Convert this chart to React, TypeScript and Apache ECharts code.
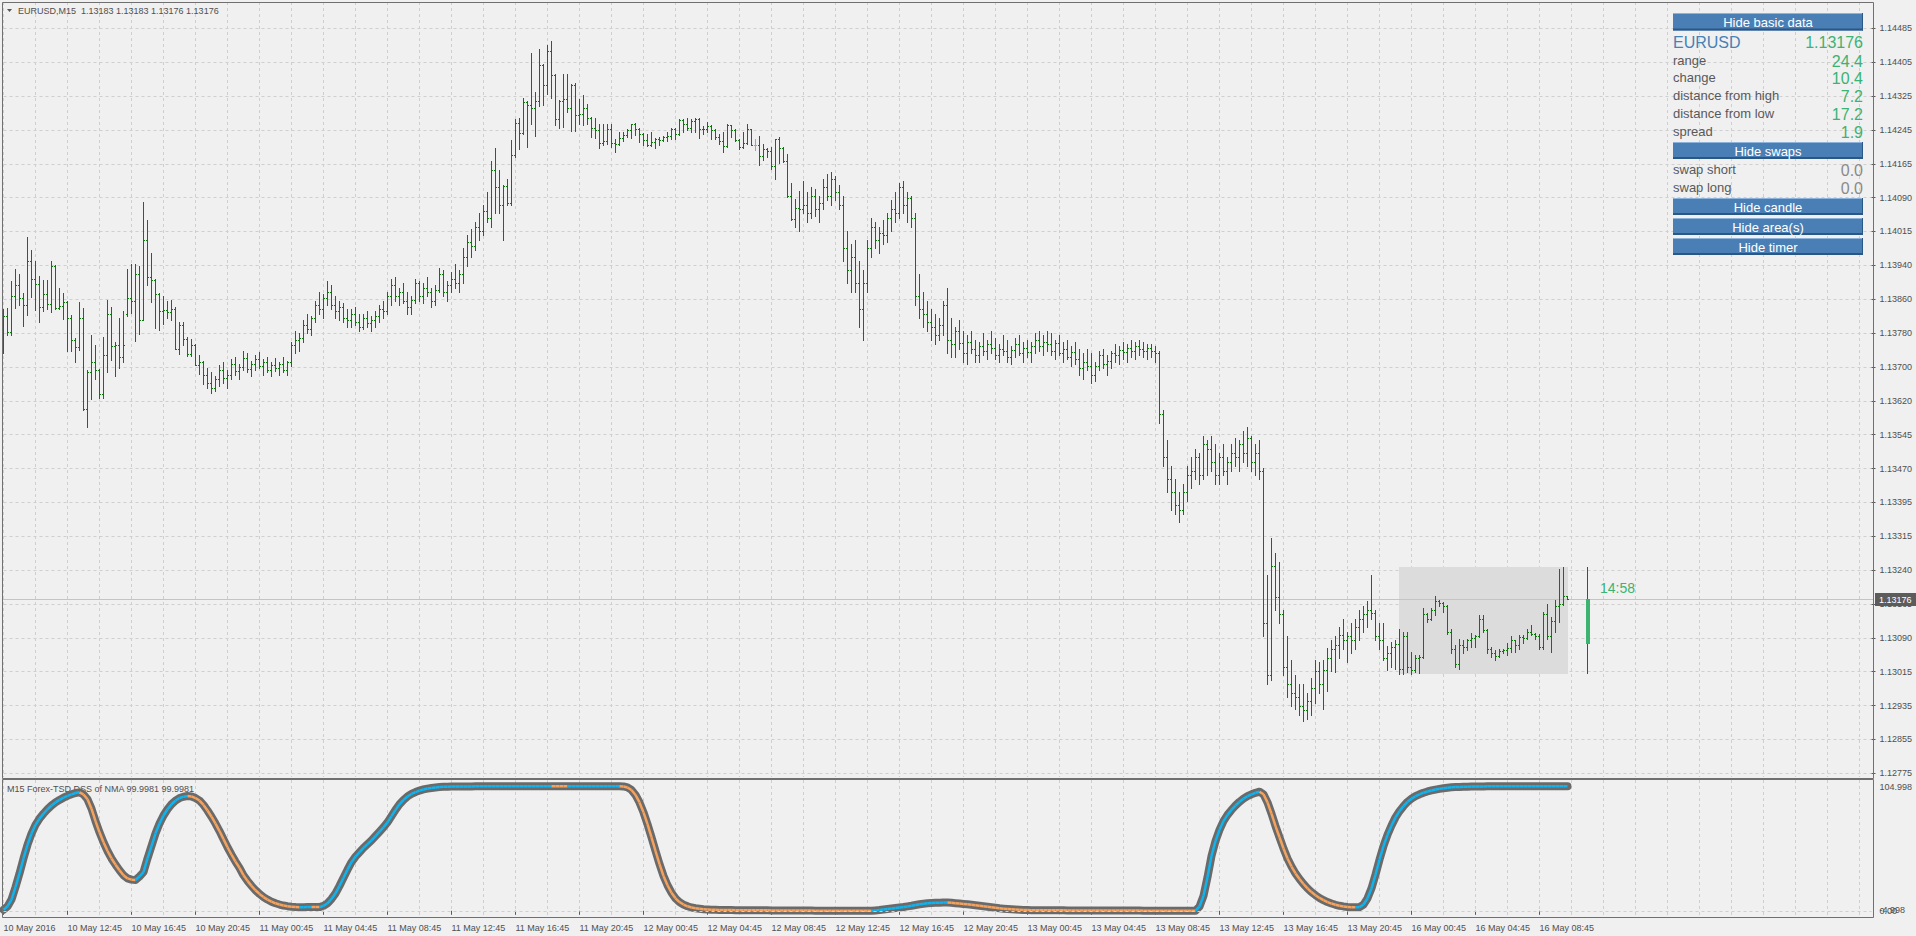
import React, { useEffect, useRef } from "react";
import * as echarts from "echarts";

const FONT = '"Liberation Sans", Arial, sans-serif';

const SYMBOL = "EURUSD";
const TIMEFRAME = "M15";
const INDICATOR_NAME = "Forex-TSD DSS of NMA";

const TIME_LABELS = [
  "10 May 2016", "10 May 12:45", "10 May 16:45", "10 May 20:45",
  "11 May 00:45", "11 May 04:45", "11 May 08:45", "11 May 12:45", "11 May 16:45", "11 May 20:45",
  "12 May 00:45", "12 May 04:45", "12 May 08:45", "12 May 12:45", "12 May 16:45", "12 May 20:45",
  "13 May 00:45", "13 May 04:45", "13 May 08:45", "13 May 12:45", "13 May 16:45", "13 May 20:45",
  "16 May 00:45", "16 May 04:45", "16 May 08:45",
];

// bottom -> top
const PRICE_TICKS = [
  "1.12775", "1.12855", "1.12935", "1.13015", "1.13090", "1.13165", "1.13240", "1.13315",
  "1.13395", "1.13470", "1.13545", "1.13620", "1.13700", "1.13780", "1.13860", "1.13940",
  "1.14015", "1.14090", "1.14165", "1.14245", "1.14325", "1.14405", "1.14485",
];

// [open, high, low, close] per M15 bar
const OHLC = [
  [1.13826,1.13840,1.13740,1.13824],[1.13824,1.13843,1.13780,1.13789],[1.13789,1.13904,1.13780,1.13870],[1.13870,1.13932,1.13843,1.13895],[1.13895,1.13920,1.13851,1.13866],
  [1.13866,1.13878,1.13802,1.13851],[1.13851,1.14007,1.13827,1.13952],[1.13952,1.13975,1.13868,1.13909],[1.13909,1.13950,1.13838,1.13897],[1.13897,1.13916,1.13811,1.13845],
  [1.13845,1.13907,1.13836,1.13874],[1.13874,1.13907,1.13840,1.13853],[1.13853,1.13952,1.13834,1.13939],[1.13939,1.13941,1.13840,1.13844],[1.13844,1.13890,1.13840,1.13848],
  [1.13848,1.13878,1.13818,1.13856],[1.13856,1.13858,1.13744,1.13819],[1.13819,1.13828,1.13744,1.13769],[1.13769,1.13774,1.13718,1.13754],[1.13754,1.13856,1.13746,1.13819],
  [1.13819,1.13842,1.13610,1.13612],[1.13612,1.13700,1.13570,1.13697],[1.13697,1.13780,1.13635,1.13718],[1.13718,1.13758,1.13680,1.13700],[1.13700,1.13702,1.13637,1.13646],
  [1.13646,1.13777,1.13637,1.13734],[1.13734,1.13861,1.13696,1.13829],[1.13829,1.13845,1.13723,1.13755],[1.13755,1.13764,1.13687,1.13758],[1.13758,1.13821,1.13706,1.13730],
  [1.13730,1.13836,1.13719,1.13757],[1.13830,1.13932,1.13825,1.13867],[1.13867,1.13943,1.13832,1.13858],[1.13858,1.13943,1.13767,1.13920],[1.13920,1.13939,1.13783,1.13816],
  [1.13816,1.14087,1.13815,1.14000],[1.14000,1.14045,1.13895,1.13914],[1.13914,1.13969,1.13857,1.13907],[1.13907,1.13909,1.13798,1.13876],[1.13876,1.13878,1.13792,1.13835],
  [1.13835,1.13871,1.13807,1.13838],[1.13838,1.13859,1.13821,1.13833],[1.13833,1.13861,1.13815,1.13840],[1.13840,1.13845,1.13748,1.13750],[1.13750,1.13811,1.13737,1.13805],
  [1.13805,1.13810,1.13758,1.13771],[1.13771,1.13777,1.13733,1.13738],[1.13738,1.13771,1.13733,1.13758],[1.13758,1.13760,1.13712,1.13713],[1.13713,1.13735,1.13691,1.13718],
  [1.13718,1.13722,1.13668,1.13690],[1.13690,1.13705,1.13660,1.13672],[1.13672,1.13695,1.13648,1.13660],[1.13660,1.13688,1.13652,1.13680],[1.13680,1.13712,1.13665,1.13700],
  [1.13700,1.13718,1.13672,1.13682],[1.13682,1.13700,1.13660,1.13690],[1.13690,1.13725,1.13680,1.13715],[1.13715,1.13730,1.13690,1.13698],[1.13698,1.13715,1.13680,1.13708],
  [1.13708,1.13745,1.13700,1.13728],[1.13728,1.13740,1.13695,1.13702],[1.13702,1.13722,1.13688,1.13715],[1.13715,1.13735,1.13700,1.13725],[1.13725,1.13742,1.13705,1.13710],
  [1.13710,1.13725,1.13690,1.13718],[1.13718,1.13730,1.13695,1.13700],[1.13700,1.13718,1.13688,1.13712],[1.13712,1.13728,1.13698,1.13705],[1.13705,1.13720,1.13690,1.13715],
  [1.13715,1.13730,1.13695,1.13700],[1.13700,1.13722,1.13690,1.13718],[1.13718,1.13765,1.13710,1.13758],[1.13758,1.13790,1.13740,1.13770],[1.13770,1.13785,1.13745,1.13775],
  [1.13775,1.13815,1.13765,1.13805],[1.13805,1.13830,1.13785,1.13795],[1.13795,1.13825,1.13780,1.13820],[1.13820,1.13860,1.13810,1.13850],[1.13850,1.13880,1.13830,1.13840],
  [1.13840,1.13875,1.13820,1.13865],[1.13865,1.13905,1.13850,1.13880],[1.13880,1.13895,1.13840,1.13850],[1.13850,1.13870,1.13820,1.13835],[1.13835,1.13860,1.13815,1.13845],
  [1.13845,1.13855,1.13810,1.13820],[1.13820,1.13840,1.13800,1.13815],[1.13815,1.13840,1.13800,1.13830],[1.13830,1.13845,1.13805,1.13810],[1.13810,1.13830,1.13790,1.13800],
  [1.13800,1.13830,1.13795,1.13820],[1.13820,1.13835,1.13800,1.13808],[1.13808,1.13825,1.13790,1.13815],[1.13815,1.13835,1.13800,1.13825],[1.13825,1.13850,1.13810,1.13840],
  [1.13840,1.13860,1.13820,1.13835],[1.13835,1.13880,1.13830,1.13870],[1.13870,1.13910,1.13850,1.13895],[1.13895,1.13915,1.13860,1.13870],[1.13870,1.13890,1.13850,1.13880],
  [1.13880,1.13900,1.13855,1.13860],[1.13860,1.13880,1.13830,1.13845],[1.13845,1.13870,1.13830,1.13862],[1.13862,1.13910,1.13855,1.13900],[1.13900,1.13905,1.13860,1.13870],
  [1.13870,1.13900,1.13855,1.13890],[1.13890,1.13915,1.13870,1.13880],[1.13880,1.13890,1.13845,1.13860],[1.13860,1.13895,1.13850,1.13885],[1.13885,1.13935,1.13880,1.13920],
  [1.13920,1.13930,1.13870,1.13880],[1.13880,1.13905,1.13860,1.13895],[1.13895,1.13925,1.13880,1.13910],[1.13910,1.13945,1.13890,1.13900],[1.13900,1.13930,1.13880,1.13920],
  [1.13920,1.13980,1.13900,1.13960],[1.13960,1.14010,1.13940,1.13995],[1.13995,1.14025,1.13960,1.13985],[1.13985,1.14040,1.13975,1.14030],[1.14030,1.14060,1.14000,1.14020],
  [1.14020,1.14080,1.14010,1.14065],[1.14065,1.14110,1.14040,1.14050],[1.14050,1.14180,1.14030,1.14160],[1.14160,1.14210,1.14060,1.14120],[1.14120,1.14160,1.14060,1.14080],
  [1.14080,1.14125,1.14000,1.14123],[1.14123,1.14138,1.14079,1.14083],[1.14083,1.14228,1.14080,1.14194],[1.14194,1.14276,1.14190,1.14268],[1.14268,1.14278,1.14209,1.14245],
  [1.14245,1.14326,1.14242,1.14316],[1.14316,1.14318,1.14212,1.14308],[1.14308,1.14429,1.14265,1.14303],[1.14303,1.14339,1.14238,1.14318],[1.14318,1.14437,1.14307,1.14400],
  [1.14400,1.14402,1.14308,1.14354],[1.14354,1.14446,1.14334,1.14432],[1.14432,1.14455,1.14326,1.14377],[1.14377,1.14380,1.14262,1.14276],[1.14276,1.14320,1.14257,1.14318],
  [1.14318,1.14379,1.14258,1.14322],[1.14322,1.14379,1.14293,1.14303],[1.14303,1.14358,1.14249,1.14354],[1.14354,1.14360,1.14249,1.14285],[1.14285,1.14322,1.14266,1.14288],
  [1.14288,1.14333,1.14262,1.14303],[1.14303,1.14312,1.14266,1.14278],[1.14278,1.14282,1.14236,1.14257],[1.14257,1.14278,1.14234,1.14251],[1.14251,1.14266,1.14210,1.14222],
  [1.14222,1.14265,1.14216,1.14226],[1.14226,1.14265,1.14220,1.14255],[1.14255,1.14265,1.14213,1.14222],[1.14222,1.14232,1.14200,1.14220],[1.14220,1.14246,1.14218,1.14234],
  [1.14234,1.14247,1.14226,1.14239],[1.14239,1.14253,1.14236,1.14251],[1.14251,1.14266,1.14234,1.14265],[1.14265,1.14268,1.14241,1.14255],[1.14255,1.14256,1.14224,1.14243],
  [1.14243,1.14245,1.14216,1.14228],[1.14228,1.14243,1.14215,1.14216],[1.14216,1.14246,1.14214,1.14224],[1.14224,1.14234,1.14210,1.14232],[1.14232,1.14236,1.14216,1.14229],
  [1.14229,1.14238,1.14226,1.14235],[1.14235,1.14247,1.14226,1.14238],[1.14238,1.14257,1.14232,1.14255],[1.14255,1.14257,1.14232,1.14243],[1.14243,1.14276,1.14241,1.14274],
  [1.14274,1.14276,1.14247,1.14266],[1.14266,1.14278,1.14252,1.14257],[1.14257,1.14276,1.14246,1.14272],[1.14272,1.14280,1.14247,1.14276],[1.14276,1.14278,1.14234,1.14255],
  [1.14255,1.14260,1.14243,1.14253],[1.14253,1.14270,1.14247,1.14260],[1.14260,1.14262,1.14232,1.14251],[1.14251,1.14255,1.14230,1.14236],[1.14236,1.14243,1.14219,1.14226],
  [1.14226,1.14246,1.14201,1.14214],[1.14214,1.14265,1.14213,1.14262],[1.14262,1.14264,1.14236,1.14251],[1.14251,1.14253,1.14226,1.14228],[1.14228,1.14232,1.14209,1.14213],
  [1.14213,1.14247,1.14210,1.14222],[1.14222,1.14265,1.14220,1.14253],[1.14253,1.14255,1.14216,1.14218],[1.14218,1.14232,1.14205,1.14218],[1.14218,1.14238,1.14171,1.14191],
  [1.14191,1.14220,1.14182,1.14207],[1.14207,1.14211,1.14190,1.14203],[1.14203,1.14213,1.14163,1.14169],[1.14169,1.14232,1.14140,1.14230],[1.14230,1.14236,1.14176,1.14211],
  [1.14211,1.14213,1.14178,1.14181],[1.14181,1.14197,1.14098,1.14099],[1.14099,1.14131,1.14044,1.14048],[1.14048,1.14094,1.14030,1.14073],[1.14073,1.14112,1.14020,1.14070],
  [1.14070,1.14135,1.14060,1.14080],[1.14080,1.14110,1.14040,1.14060],[1.14060,1.14120,1.14050,1.14100],[1.14100,1.14115,1.14055,1.14070],[1.14070,1.14100,1.14040,1.14085],
  [1.14085,1.14140,1.14070,1.14120],[1.14120,1.14150,1.14090,1.14100],[1.14100,1.14155,1.14080,1.14140],[1.14140,1.14145,1.14090,1.14110],[1.14110,1.14125,1.14070,1.14080],
  [1.14080,1.14100,1.13950,1.13980],[1.13980,1.14020,1.13900,1.13930],[1.13930,1.13990,1.13880,1.13960],[1.13960,1.14000,1.13880,1.13900],[1.13900,1.13950,1.13800,1.13840],
  [1.13840,1.13930,1.13770,1.13900],[1.13900,1.14000,1.13880,1.13980],[1.13980,1.14050,1.13960,1.14030],[1.14030,1.14040,1.13980,1.14000],[1.14000,1.14030,1.13970,1.14015],
  [1.14015,1.14045,1.13990,1.14010],[1.14010,1.14060,1.13995,1.14050],[1.14050,1.14090,1.14020,1.14070],[1.14070,1.14110,1.14040,1.14060],[1.14060,1.14130,1.14050,1.14120],
  [1.14120,1.14135,1.14060,1.14080],[1.14080,1.14110,1.14040,1.14095],[1.14095,1.14100,1.14030,1.14050],[1.14050,1.14060,1.13850,1.13870],[1.13870,1.13920,1.13820,1.13840],
  [1.13840,1.13880,1.13800,1.13830],[1.13830,1.13860,1.13790,1.13810],[1.13810,1.13840,1.13770,1.13800],[1.13800,1.13830,1.13760,1.13780],[1.13780,1.13820,1.13770,1.13805],
  [1.13805,1.13860,1.13780,1.13850],[1.13850,1.13890,1.13740,1.13770],[1.13770,1.13820,1.13730,1.13760],[1.13760,1.13800,1.13730,1.13790],[1.13790,1.13815,1.13750,1.13762],
  [1.13762,1.13790,1.13720,1.13740],[1.13740,1.13780,1.13715,1.13765],[1.13765,1.13790,1.13740,1.13750],[1.13750,1.13770,1.13720,1.13735],[1.13735,1.13765,1.13720,1.13755],
  [1.13755,1.13785,1.13735,1.13745],[1.13745,1.13770,1.13725,1.13760],[1.13760,1.13790,1.13740,1.13752],[1.13752,1.13775,1.13725,1.13735],[1.13735,1.13760,1.13720,1.13750],
  [1.13750,1.13780,1.13735,1.13745],[1.13745,1.13770,1.13720,1.13730],[1.13730,1.13755,1.13715,1.13746],[1.13746,1.13775,1.13730,1.13760],[1.13760,1.13780,1.13735,1.13740],
  [1.13740,1.13765,1.13720,1.13752],[1.13752,1.13770,1.13730,1.13742],[1.13742,1.13765,1.13720,1.13755],[1.13755,1.13785,1.13740,1.13770],[1.13770,1.13790,1.13745,1.13756],
  [1.13756,1.13780,1.13735,1.13765],[1.13765,1.13790,1.13745,1.13761],[1.13761,1.13785,1.13735,1.13745],[1.13745,1.13770,1.13725,1.13762],[1.13762,1.13780,1.13735,1.13740],
  [1.13740,1.13765,1.13720,1.13750],[1.13750,1.13770,1.13725,1.13730],[1.13730,1.13755,1.13710,1.13741],[1.13741,1.13765,1.13715,1.13725],[1.13725,1.13750,1.13690,1.13705],
  [1.13705,1.13740,1.13680,1.13720],[1.13720,1.13750,1.13700,1.13710],[1.13710,1.13740,1.13670,1.13690],[1.13690,1.13720,1.13675,1.13711],[1.13711,1.13745,1.13700,1.13735],
  [1.13735,1.13750,1.13705,1.13715],[1.13715,1.13735,1.13690,1.13722],[1.13722,1.13745,1.13705,1.13740],[1.13740,1.13760,1.13720,1.13736],[1.13736,1.13755,1.13715,1.13746],
  [1.13746,1.13765,1.13725,1.13741],[1.13741,1.13760,1.13720,1.13751],[1.13751,1.13770,1.13730,1.13744],[1.13744,1.13765,1.13725,1.13756],[1.13756,1.13770,1.13735,1.13749],
  [1.13749,1.13765,1.13730,1.13745],[1.13745,1.13760,1.13725,1.13751],[1.13751,1.13760,1.13730,1.13744],[1.13744,1.13755,1.13720,1.13740],[1.13740,1.13745,1.13580,1.13600],
  [1.13600,1.13610,1.13480,1.13500],[1.13500,1.13540,1.13420,1.13450],[1.13450,1.13480,1.13380,1.13420],[1.13420,1.13450,1.13370,1.13390],[1.13390,1.13420,1.13352,1.13380],
  [1.13380,1.13440,1.13370,1.13420],[1.13420,1.13480,1.13400,1.13460],[1.13460,1.13500,1.13430,1.13470],[1.13470,1.13520,1.13450,1.13500],[1.13500,1.13510,1.13440,1.13460],
  [1.13460,1.13550,1.13450,1.13530],[1.13530,1.13540,1.13460,1.13520],[1.13520,1.13550,1.13470,1.13490],[1.13490,1.13530,1.13440,1.13460],[1.13460,1.13510,1.13440,1.13500],
  [1.13500,1.13530,1.13460,1.13470],[1.13470,1.13500,1.13440,1.13490],[1.13490,1.13530,1.13470,1.13510],[1.13510,1.13545,1.13480,1.13500],[1.13500,1.13540,1.13470,1.13530],
  [1.13530,1.13560,1.13490,1.13510],[1.13510,1.13570,1.13480,1.13545],[1.13545,1.13550,1.13470,1.13490],[1.13490,1.13530,1.13460,1.13510],[1.13510,1.13540,1.13450,1.13470],
  [1.13470,1.13475,1.13091,1.13120],[1.13120,1.13231,1.12979,1.13000],[1.13000,1.13315,1.12990,1.13250],[1.13250,1.13280,1.13150,1.13180],[1.13180,1.13259,1.13119,1.13140],
  [1.13140,1.13150,1.13000,1.13020],[1.13020,1.13091,1.12951,1.12980],[1.12980,1.13035,1.12930,1.12960],[1.12960,1.13000,1.12923,1.12950],[1.12950,1.12979,1.12909,1.12930],
  [1.12930,1.12979,1.12895,1.12920],[1.12920,1.12960,1.12900,1.12940],[1.12940,1.12993,1.12909,1.12970],[1.12970,1.13035,1.12937,1.13010],[1.13010,1.13030,1.12960,1.12980],
  [1.12980,1.13035,1.12923,1.13012],[1.13012,1.13063,1.12965,1.13040],[1.13040,1.13080,1.13010,1.13060],[1.13060,1.13091,1.13007,1.13070],[1.13070,1.13110,1.13040,1.13092],
  [1.13092,1.13130,1.13060,1.13080],[1.13080,1.13100,1.13030,1.13090],[1.13090,1.13120,1.13050,1.13082],[1.13082,1.13130,1.13060,1.13110],[1.13110,1.13150,1.13080,1.13130],
  [1.13130,1.13160,1.13100,1.13140],[1.13140,1.13170,1.13110,1.13150],[1.13150,1.13230,1.13130,1.13142],[1.13142,1.13150,1.13080,1.13090],[1.13090,1.13120,1.13060,1.13080],
  [1.13080,1.13119,1.13034,1.13040],[1.13040,1.13067,1.13011,1.13050],[1.13050,1.13076,1.13019,1.13065],[1.13065,1.13080,1.13015,1.13072],[1.13072,1.13107,1.13004,1.13015],
  [1.13015,1.13099,1.13004,1.13090],[1.13090,1.13099,1.13008,1.13020],[1.13020,1.13054,1.13004,1.13012],[1.13012,1.13046,1.13008,1.13040],[1.13040,1.13046,1.13006,1.13042],
  [1.13042,1.13155,1.13040,1.13140],[1.13140,1.13142,1.13122,1.13130],[1.13130,1.13155,1.13128,1.13150],[1.13150,1.13181,1.13139,1.13170],[1.13170,1.13172,1.13158,1.13165],
  [1.13165,1.13168,1.13145,1.13160],[1.13160,1.13161,1.13095,1.13100],[1.13100,1.13107,1.13050,1.13060],[1.13060,1.13069,1.13019,1.13025],[1.13025,1.13084,1.13015,1.13070],
  [1.13070,1.13080,1.13050,1.13065],[1.13065,1.13084,1.13058,1.13080],[1.13080,1.13097,1.13065,1.13085],[1.13085,1.13092,1.13065,1.13090],[1.13090,1.13139,1.13088,1.13130],
  [1.13130,1.13138,1.13099,1.13105],[1.13105,1.13106,1.13050,1.13060],[1.13060,1.13065,1.13042,1.13050],[1.13050,1.13058,1.13036,1.13045],[1.13045,1.13061,1.13042,1.13055],
  [1.13055,1.13061,1.13050,1.13058],[1.13058,1.13073,1.13046,1.13062],[1.13062,1.13089,1.13054,1.13080],[1.13080,1.13082,1.13054,1.13070],[1.13070,1.13092,1.13061,1.13088],
  [1.13088,1.13092,1.13073,1.13085],[1.13085,1.13107,1.13084,1.13100],[1.13100,1.13115,1.13092,1.13095],[1.13095,1.13097,1.13084,1.13090],[1.13090,1.13095,1.13061,1.13065],
  [1.13065,1.13145,1.13061,1.13140],[1.13140,1.13164,1.13084,1.13090],[1.13090,1.13134,1.13054,1.13125],[1.13125,1.13172,1.13099,1.13160],[1.13160,1.13245,1.13122,1.13164],
  [1.13164,1.13248,1.13161,1.13183],[1.13183,1.13183,1.13176,1.13176],
];

// DSS of NMA values per bar
const DSS = [
  0.8,3.5,9,19,30,42,53,62,69,74,
  78,81.5,84.5,87,89,90.8,92.3,93.5,94.6,95.1,
  93.4,89.5,82,72,63,55,48,42,37,32.5,
  28.5,26,25,24.7,27.5,31,42,52,62,70,
  76.5,81.5,85.5,88.5,90.5,91.6,92.1,91.8,90.5,88.5,
  85,80.5,75.5,70,64,57.5,51,45,39.5,34.5,
  28.5,24,20,16.5,13.5,11,9,7.3,6,5,
  4.2,3.7,3.3,3.0,2.8,2.9,3.0,3.1,3.0,2.95,
  4,6,9.5,14,20,26.5,33,39,43.5,47,
  50.5,53.5,56.5,60,63.5,67,71,76,81,85.5,
  89,91.8,93.8,95.3,96.5,97.4,98.1,98.6,99.0,99.3,
  99.5,99.62,99.7,99.76,99.8,99.83,99.85,99.87,99.885,99.9,
  99.91,99.92,99.93,99.94,99.95,99.955,99.96,99.965,99.97,99.975,
  99.98,99.983,99.986,99.988,99.99,99.992,99.994,99.995,99.99,99.98,
  99.97,99.96,99.965,99.97,99.975,99.98,99.983,99.986,99.988,99.99,
  99.991,99.992,99.993,99.994,99.995,99.8,99.0,97,93,87,
  79,69.5,59,48,37.5,28,20.5,14.5,10,7,
  5,3.6,2.6,2.0,1.6,1.25,1.05,0.9,0.8,0.72,
  0.66,0.6,0.55,0.51,0.48,0.45,0.43,0.41,0.39,0.37,
  0.35,0.33,0.31,0.29,0.27,0.25,0.23,0.21,0.19,0.17,
  0.15,0.14,0.13,0.12,0.11,0.1,0.09,0.08,0.07,0.06,
  0.05,0.045,0.04,0.035,0.03,0.025,0.02,0.015,0.3,0.6,
  1.0,1.4,1.8,2.2,2.6,3.0,3.5,4.0,4.6,5.2,
  5.7,6.1,6.3,6.4,6.5,6.55,6.6,6.4,6.1,5.8,
  5.5,5.2,4.8,4.4,4.0,3.6,3.2,2.8,2.4,2.0,
  1.7,1.4,1.15,0.95,0.8,0.65,0.55,0.5,0.48,0.46,
  0.44,0.42,0.4,0.38,0.36,0.34,0.32,0.3,0.29,0.28,
  0.27,0.26,0.25,0.24,0.23,0.22,0.21,0.2,0.19,0.18,
  0.17,0.16,0.15,0.14,0.13,0.12,0.11,0.1,0.095,0.09,
  0.085,0.08,0.075,0.07,0.065,0.06,0.055,0.05,0.045,3.4,
  12,27,44,56,65,72,77,81,84.5,87.5,
  90,92,93.5,94.7,95.6,93.5,87,78,68,59,
  50,42,35.5,30,25.5,21.5,18,15,12.5,10.3,
  8.5,7,5.8,4.8,4,3.5,3.1,2.9,2.8,2.9,
  5,10,18,29,41,52,61,68.5,75,80,
  84,87.5,90,92,93.5,94.8,95.8,96.6,97.3,97.9,
  98.4,98.8,99.1,99.3,99.45,99.57,99.66,99.73,99.79,99.84,
  99.87,99.9,99.92,99.935,99.947,99.957,99.965,99.971,99.976,99.98,
  99.983,99.986,99.988,99.99,99.992,99.9935,99.9948,99.9958,99.9966,99.9972,
  99.9977,99.9981,
];

const DSS_AXIS = [-4.998, 104.998];
const DSS_LEVEL = 0;

// today's session (16 May) and daily candle
const DAY_START = 349;
const DAY_CANDLE_SLOT = 396;
const DAY_OHLC = [1.13072, 1.13248, 1.13004, 1.13176];
const TIMER = "14:58";

const INFO_ROWS = [
  ["range", "24.4"],
  ["change", "10.4"],
  ["distance from high", "7.2"],
  ["distance from low", "17.2"],
  ["spread", "1.9"],
];
const SWAP_ROWS = [
  ["swap short", "0.0"],
  ["swap long", "0.0"],
];
const BUTTONS = ["Hide basic data", "Hide swaps", "Hide candle", "Hide area(s)", "Hide timer"];

const SLOTS = 468;

const C_BAR = "#0b780b";
const C_DOJI = "#a4a4a4";
const C_GRID = "#cfcfcf";
const C_TEXT = "#4f4f4f";
const C_BLUE = "#0fb4ee";
const C_ORANGE = "#f4a25e";
const C_GREEN = "#3cb371";

function buildOption() {
  const lastIdx = OHLC.length - 1;
  const last = OHLC[lastIdx];
  const cats = Array.from({ length: SLOTS }, (_, i) => String(i));
  const labelIdx = (i: number) => i % 16 === 0 && i / 16 < TIME_LABELS.length;
  const gridLine = { show: true, lineStyle: { color: C_GRID, type: [3, 3], width: 1 } };
  const axisFont = { fontSize: 9, color: C_TEXT, fontFamily: FONT };

  const W = (SLOTS - 1) * 4;
  const LEFT = 3.5;

  const title = `${SYMBOL},${TIMEFRAME}  ${last.map((v) => v.toFixed(5)).join(" ")}`;
  const lastDss = DSS[DSS.length - 1].toFixed(4);
  const indTitle = `${TIMEFRAME} ${INDICATOR_NAME} ${lastDss} ${lastDss}`;

  const PX = 1673;
  const PW = 190;
  const txt = (x: number, y: number, text: string, fill: string, size: number, align: string, z = 30) => ({
    type: "text",
    x,
    y,
    z,
    silent: true,
    style: {
      text,
      fill,
      font: `${size}px ${FONT}`,
      align,
      verticalAlign: "middle",
      textAlign: align,
      textVerticalAlign: "middle",
    },
  });
  const button = (label: string, y: number, h: number) => [
    { type: "rect", z: 30, silent: true, shape: { x: PX, y, width: PW, height: h }, style: { fill: "#4a7fb6" } },
    { type: "rect", z: 30, silent: true, shape: { x: PX, y, width: PW, height: 1 }, style: { fill: "#8db3dc" } },
    { type: "rect", z: 30, silent: true, shape: { x: PX, y: y + h - 2, width: PW, height: 2 }, style: { fill: "#2b5785" } },
    { type: "rect", z: 30, silent: true, shape: { x: PX + PW - 1, y, width: 1, height: h }, style: { fill: "#2b5785" } },
    txt(PX + PW / 2, y + h / 2 + 0.5, label, "#ffffff", 13, "center", 31),
  ];

  const panel: any[] = [];
  panel.push(...button(BUTTONS[0], 13, 17.5));
  panel.push(txt(PX, 42, SYMBOL, "#4682b4", 16, "left"));
  panel.push(txt(PX + PW, 42, last[3].toFixed(5), C_GREEN, 16, "right"));
  INFO_ROWS.forEach((r, k) => {
    const y = 60 + k * 17.75;
    panel.push(txt(PX, y, r[0], "#595959", 13, "left"));
    panel.push(txt(PX + PW, y + 1, r[1], C_GREEN, 16, "right"));
  });
  panel.push(...button(BUTTONS[1], 142, 17));
  SWAP_ROWS.forEach((r, k) => {
    const y = 169.5 + k * 18.2;
    panel.push(txt(PX, y, r[0], "#595959", 13, "left"));
    panel.push(txt(PX + PW, y + 1, r[1], "#8a8a8a", 16, "right"));
  });
  panel.push(...button(BUTTONS[2], 198, 17));
  panel.push(...button(BUTTONS[3], 218, 17));
  panel.push(...button(BUTTONS[4], 238, 17));

  const graphic: any[] = [
    { type: "rect", z: 20, silent: true, shape: { x: 2.5, y: 2.5, width: 1871, height: 776 }, style: { fill: "none", stroke: "#707070", lineWidth: 1 } },
    { type: "rect", z: 20, silent: true, shape: { x: 2.5, y: 779.5, width: 1871, height: 138 }, style: { fill: "none", stroke: "#707070", lineWidth: 1 } },
    { type: "polygon", z: 1, silent: true, shape: { points: [[7, 9], [12, 9], [9.5, 12]] }, style: { fill: "#555555" } },
    txt(18, 11, title, C_TEXT, 9, "left", 1),
    txt(7, 788.5, indTitle, C_TEXT, 9, "left", 1),
    ...panel,
  ];

  const segs = DSS.slice(1).map((v, k) => [k, DSS[k], k + 1, v]);

  return {
    animation: false,
    backgroundColor: "#f0f0f0",
    textStyle: { fontFamily: FONT },
    grid: [
      { left: LEFT, top: 2, width: W, height: 775 },
      { left: LEFT, top: 28.3, width: W, height: 745 },
      { left: LEFT, top: 780, width: W, height: 137 },
    ],
    xAxis: [
      {
        type: "category", gridIndex: 0, data: cats, boundaryGap: false,
        axisLine: { show: false }, axisTick: { show: false }, axisLabel: { show: false },
        splitLine: { ...gridLine, interval: (i: number) => i % 8 === 0 },
      },
      { type: "category", gridIndex: 1, data: cats, boundaryGap: false, show: false },
      {
        type: "category", gridIndex: 2, data: cats, boundaryGap: false,
        axisLine: { show: false },
        axisTick: { show: true, length: 4, interval: labelIdx, lineStyle: { color: "#5a5a5a" } },
        axisLabel: {
          show: true, interval: labelIdx, align: "left", margin: 6, ...axisFont,
          formatter: (v: string) => {
            const i = Number(v);
            return i % 16 === 0 && TIME_LABELS[i / 16] ? TIME_LABELS[i / 16] : "";
          },
        },
        splitLine: { ...gridLine, interval: (i: number) => i % 8 === 0 },
      },
    ],
    yAxis: [
      { type: "value", gridIndex: 0, min: 0, max: 1, show: false },
      { type: "value", gridIndex: 1, position: "left", min: Number(PRICE_TICKS[0]), max: Number(PRICE_TICKS[PRICE_TICKS.length - 1]), show: false },
      {
        type: "value", gridIndex: 1, position: "right", min: 0, max: PRICE_TICKS.length - 1, interval: 1,
        axisLine: { show: false },
        axisTick: { show: true, length: 4, lineStyle: { color: "#5a5a5a" } },
        axisLabel: { margin: 8, ...axisFont, formatter: (v: number) => PRICE_TICKS[Math.round(v)] ?? "" },
        splitLine: gridLine,
      },
      {
        type: "value", gridIndex: 2, position: "right", min: DSS_AXIS[0], max: DSS_AXIS[1], interval: DSS_AXIS[1] - DSS_AXIS[0],
        axisLine: { show: false }, axisTick: { show: false }, splitLine: { show: false },
        axisLabel: {
          margin: 8, ...axisFont,
          formatter: (v: number) => (v > 50 ? `{t|${DSS_AXIS[1].toFixed(3)}}` : `{b|${DSS_AXIS[0].toFixed(3)}}`),
          rich: {
            t: { padding: [13, 0, 0, 0], ...axisFont },
            b: { padding: [0, 0, 14, 0], ...axisFont },
          },
        },
      },
    ],
    series: [
      {
        type: "custom", name: "session area", xAxisIndex: 1, yAxisIndex: 1, z: 1, silent: true,
        data: [[DAY_START, lastIdx, DAY_OHLC[1], DAY_OHLC[2]]],
        encode: { x: [0, 1], y: [2, 3] },
        renderItem: (_p: any, api: any) => {
          const a = api.coord([api.value(0), api.value(2)]);
          const b = api.coord([api.value(1), api.value(3)]);
          return {
            type: "rect",
            shape: { x: Math.floor(a[0]), y: Math.round(a[1]), width: Math.floor(b[0]) - Math.floor(a[0]) + 1, height: Math.round(b[1]) - Math.round(a[1]) },
            style: { fill: "#dcdcdc" },
          };
        },
      },
      {
        type: "custom", name: "price line", xAxisIndex: 1, yAxisIndex: 1, z: 2, silent: true,
        data: [[0, SLOTS - 1, last[3]]],
        encode: { x: [0, 1], y: 2 },
        renderItem: (_p: any, api: any) => {
          const v = api.value(2);
          const a = api.coord([api.value(0), v]);
          const b = api.coord([api.value(1), v]);
          const y = Math.round(a[1]) + 0.5;
          return {
            type: "group",
            children: [
              { type: "line", shape: { x1: a[0] - 1.5, y1: y, x2: b[0] + 1.5, y2: y }, style: { stroke: "#c4c4c4", lineWidth: 1 } },
              { type: "rect", shape: { x: Math.round(b[0]) + 3, y: Math.round(y - 6.5), width: 44, height: 13 }, style: { fill: "#5c5c5c" } },
              {
                type: "text", x: Math.round(b[0]) + 7, y: y,
                style: { text: Number(v).toFixed(5), fill: "#ffffff", font: `9px ${FONT}`, align: "left", verticalAlign: "middle", textAlign: "left", textVerticalAlign: "middle" },
              },
            ],
          };
        },
      },
      {
        type: "custom", name: "bars", xAxisIndex: 1, yAxisIndex: 1, z: 3, silent: true,
        data: OHLC.map((r, i) => [i, r[0], r[1], r[2], r[3]]),
        encode: { x: 0, y: [1, 2, 3, 4] },
        renderItem: (_p: any, api: any) => {
          const x = api.value(0);
          const o = api.value(1), h = api.value(2), l = api.value(3), c = api.value(4);
          const pH = api.coord([x, h]);
          const pL = api.coord([x, l]);
          const pO = api.coord([x, o]);
          const pC = api.coord([x, c]);
          const cx = Math.floor(pH[0]);
          const color = o === c ? C_DOJI : C_BAR;
          const yh = Math.round(pH[1]);
          const yl = Math.round(pL[1]);
          return {
            type: "group",
            children: [
              { type: "rect", shape: { x: cx, y: yh, width: 1, height: Math.max(1, yl - yh + 1) }, style: { fill: color } },
              { type: "rect", shape: { x: cx - 1, y: Math.round(pO[1]), width: 1, height: 1 }, style: { fill: color } },
              { type: "rect", shape: { x: cx + 1, y: Math.round(pC[1]), width: 1, height: 1 }, style: { fill: color } },
            ],
          };
        },
      },
      {
        type: "custom", name: "day candle", xAxisIndex: 1, yAxisIndex: 1, z: 3, silent: true,
        data: [[DAY_CANDLE_SLOT, DAY_OHLC[0], DAY_OHLC[1], DAY_OHLC[2], DAY_OHLC[3]]],
        encode: { x: 0, y: [1, 2, 3, 4] },
        renderItem: (_p: any, api: any) => {
          const x = api.value(0);
          const pO = api.coord([x, api.value(1)]);
          const pH = api.coord([x, api.value(2)]);
          const pL = api.coord([x, api.value(3)]);
          const pC = api.coord([x, api.value(4)]);
          const cx = Math.floor(pH[0]);
          const top = Math.round(Math.min(pO[1], pC[1]));
          const bot = Math.round(Math.max(pO[1], pC[1]));
          return {
            type: "group",
            children: [
              { type: "rect", shape: { x: cx, y: Math.round(pH[1]), width: 1, height: Math.round(pL[1]) - Math.round(pH[1]) }, style: { fill: C_BAR } },
              { type: "rect", shape: { x: cx - 1, y: top, width: 4, height: bot - top }, style: { fill: C_GREEN } },
              {
                type: "text", x: cx + 13, y: pC[1] - 11,
                style: { text: TIMER, fill: C_GREEN, font: `14px ${FONT}`, align: "left", verticalAlign: "middle", textAlign: "left", textVerticalAlign: "middle" },
              },
            ],
          };
        },
      },
      {
        type: "line", name: "level", xAxisIndex: 2, yAxisIndex: 3, z: 1, silent: true, data: [],
        markLine: {
          silent: true, symbol: "none", animation: false,
          data: [{ yAxis: DSS_LEVEL }],
          lineStyle: { color: C_GRID, type: [3, 3], width: 1 },
          label: { show: true, position: "end", formatter: DSS_LEVEL.toFixed(2), distance: 8, ...axisFont },
        },
      },
      {
        type: "line", name: "dss outline", xAxisIndex: 2, yAxisIndex: 3, z: 3, silent: true,
        data: DSS, symbol: "none", showSymbol: false,
        lineStyle: { width: 8, color: "#6a6a6a", join: "round", cap: "round" },
      },
      {
        type: "custom", name: "dss", xAxisIndex: 2, yAxisIndex: 3, z: 4, silent: true,
        data: segs,
        encode: { x: [0, 2], y: [1, 3] },
        renderItem: (_p: any, api: any) => {
          const a = api.coord([api.value(0), api.value(1)]);
          const b = api.coord([api.value(2), api.value(3)]);
          const up = api.value(3) > api.value(1);
          return {
            type: "line",
            shape: { x1: a[0], y1: a[1], x2: b[0], y2: b[1] },
            style: { stroke: up ? C_BLUE : C_ORANGE, lineWidth: 2.5, lineCap: "butt" },
          };
        },
      },
    ],
    graphic,
  };
}

export default function App() {
  const ref = useRef<HTMLDivElement>(null);
  useEffect(() => {
    if (!ref.current) return;
    const chart = echarts.init(ref.current, null, { renderer: "svg" });
    chart.setOption(buildOption() as any);
    return () => chart.dispose();
  }, []);
  return (
    <div
      ref={ref}
      style={{ position: "fixed", left: 0, top: 0, width: 1916, height: 936, background: "#f0f0f0" }}
    />
  );
}
